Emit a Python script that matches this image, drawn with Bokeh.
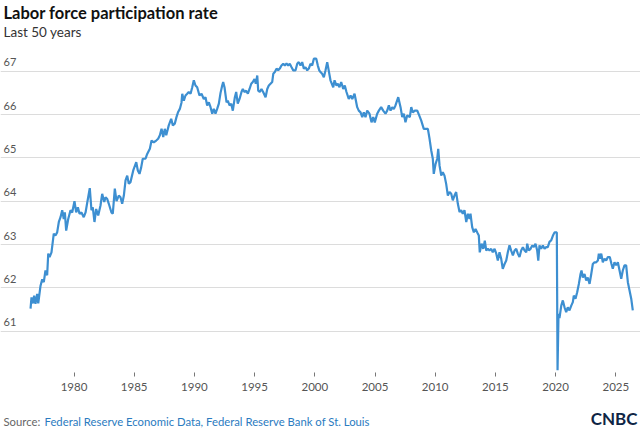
from bokeh.plotting import figure
from bokeh.layouts import column
from bokeh.models import Range1d, FixedTicker, ColumnDataSource, Grid
from bokeh.core.properties import value
from bokeh.embed import file_html
from bokeh.resources import INLINE

FONT = "Lato"

title_text = "Labor force participation rate"
subtitle_text = "Last 50 years"
source_prefix = "Source:"
source_text = "Federal Reserve Economic Data, Federal Reserve Bank of St. Louis"
logo_text = "CNBC"

x_ticks = [1980, 1985, 1990, 1995, 2000, 2005, 2010, 2015, 2020, 2025]
y_ticks = [61, 62, 63, 64, 65, 66, 67]

years = [
    1976.39, 1976.47, 1976.58, 1976.69, 1976.80, 1976.94, 1977.03, 1977.22, 1977.36, 1977.49, 1977.63, 1977.77, 1977.86, 1977.97,
    1978.13, 1978.32, 1978.46, 1978.60, 1978.74, 1978.88, 1979.02, 1979.15, 1979.24, 1979.35, 1979.52, 1979.71, 1979.85,
    1980.04, 1980.18, 1980.32, 1980.46, 1980.62, 1980.81, 1980.96, 1981.12, 1981.31, 1981.45, 1981.56, 1981.70, 1981.84,
    1982.01, 1982.20, 1982.34, 1982.51, 1982.62, 1982.76, 1982.89, 1983.11, 1983.22, 1983.39, 1983.53, 1983.72, 1983.86,
    1984.00, 1984.14, 1984.28, 1984.42, 1984.55, 1984.69, 1984.92, 1985.17, 1985.30, 1985.44, 1985.58, 1985.71, 1985.94,
    1986.08, 1986.30, 1986.44, 1986.63, 1986.83, 1986.99, 1987.13, 1987.27, 1987.41, 1987.54, 1987.66, 1987.87,
    1988.07, 1988.21, 1988.37, 1988.51, 1988.65, 1988.79, 1988.93, 1988.99, 1989.12, 1989.26, 1989.40, 1989.53, 1989.68, 1989.82, 1989.95,
    1990.09, 1990.23, 1990.42, 1990.59, 1990.78, 1990.92, 1991.06, 1991.20, 1991.34, 1991.48, 1991.61, 1991.75, 1991.89,
    1992.03, 1992.17, 1992.31, 1992.39, 1992.50, 1992.67, 1992.77, 1992.92, 1993.06, 1993.19, 1993.36, 1993.47, 1993.60, 1993.75, 1993.91,
    1994.02, 1994.16, 1994.30, 1994.44, 1994.58, 1994.72, 1994.85, 1994.99, 1995.10, 1995.22, 1995.30, 1995.43, 1995.57, 1995.71, 1995.91,
    1996.05, 1996.18, 1996.32, 1996.46, 1996.55, 1996.68, 1996.82, 1996.96, 1997.09, 1997.23, 1997.38, 1997.51, 1997.65, 1997.79, 1997.92,
    1998.07, 1998.21, 1998.40, 1998.54, 1998.67, 1998.81, 1998.95, 1999.09, 1999.23, 1999.37, 1999.50, 1999.64, 1999.78, 1999.92,
    2000.12, 2000.25, 2000.37, 2000.47, 2000.61, 2000.75, 2000.89, 2001.03, 2001.30, 2001.53, 2001.64, 2001.80, 2001.91,
    2002.05, 2002.19, 2002.36, 2002.49, 2002.63, 2002.82, 2002.97, 2003.11, 2003.30, 2003.52, 2003.65, 2003.80, 2003.94,
    2004.07, 2004.21, 2004.35, 2004.54, 2004.71, 2004.85, 2004.98, 2005.18, 2005.32, 2005.51, 2005.68, 2005.87,
    2006.01, 2006.15, 2006.29, 2006.43, 2006.56, 2006.70, 2006.93, 2007.12, 2007.26, 2007.39, 2007.53, 2007.67, 2007.89,
    2008.01, 2008.14, 2008.31, 2008.51, 2008.67, 2008.84, 2009.05, 2009.19, 2009.39, 2009.53, 2009.67, 2009.80, 2009.88,
    2010.03, 2010.17, 2010.25, 2010.36, 2010.50, 2010.63, 2010.77, 2010.91, 2011.05, 2011.19, 2011.33, 2011.46, 2011.60, 2011.74, 2011.88,
    2012.02, 2012.16, 2012.29, 2012.43, 2012.58, 2012.71, 2012.85, 2012.93, 2013.07, 2013.21, 2013.35, 2013.49, 2013.62, 2013.70, 2013.85, 2013.99,
    2014.12, 2014.24, 2014.37, 2014.51, 2014.65, 2014.78, 2014.93, 2015.07, 2015.20, 2015.34, 2015.48, 2015.61, 2015.76, 2015.90,
    2016.03, 2016.17, 2016.31, 2016.45, 2016.59, 2016.73, 2016.86, 2017.00, 2017.14, 2017.28, 2017.42, 2017.56, 2017.64, 2017.77, 2017.92,
    2018.06, 2018.19, 2018.33, 2018.47, 2018.56, 2018.66, 2018.80, 2018.94, 2019.08, 2019.22, 2019.35, 2019.49, 2019.64, 2019.77, 2019.91,
    2020.05, 2020.10, 2020.16, 2020.24, 2020.32, 2020.47, 2020.60, 2020.74, 2020.88, 2021.01, 2021.15, 2021.30, 2021.43, 2021.51, 2021.65, 2021.79, 2021.93,
    2022.07, 2022.15, 2022.26, 2022.40, 2022.54, 2022.67, 2022.82, 2022.96, 2023.09, 2023.23, 2023.37, 2023.51, 2023.59, 2023.67, 2023.79, 2023.92,
    2024.06, 2024.20, 2024.34, 2024.50, 2024.64, 2024.75, 2024.89, 2025.03, 2025.17, 2025.31, 2025.45, 2025.58, 2025.72, 2025.86,
    2026.00, 2026.14, 2026.28, 2026.41,
]

rate = [
    61.52, 61.78, 61.64, 61.82, 61.63, 61.86, 61.64, 62.05, 62.20, 62.13, 62.40, 62.29, 62.79, 62.71,
    62.82, 63.25, 63.21, 63.28, 63.52, 63.63, 63.79, 63.59, 63.74, 63.32, 63.59, 63.79, 63.74,
    64.00, 63.74, 63.86, 63.71, 63.74, 63.63, 63.74, 64.00, 64.30, 63.79, 63.86, 63.52, 63.82,
    63.67, 63.90, 64.17, 63.98, 64.09, 64.05, 63.94, 63.74, 63.71, 64.29, 64.00, 64.13, 64.09,
    63.94, 64.13, 64.48, 64.59, 64.40, 64.44, 64.71, 64.90, 64.71, 64.63, 64.78, 64.98, 64.98,
    65.09, 65.21, 65.40, 65.36, 65.40, 65.44, 65.52, 65.67, 65.48, 65.67, 65.52, 65.75,
    65.90, 65.75, 65.79, 65.94, 66.06, 66.13, 66.28, 66.48, 66.32, 66.44, 66.48, 66.52, 66.48, 66.63, 66.79,
    66.67, 66.63, 66.44, 66.48, 66.36, 66.40, 66.21, 66.28, 66.17, 66.02, 66.13, 66.02, 66.13,
    66.25, 66.50, 66.67, 66.75, 66.63, 66.28, 66.32, 66.21, 66.25, 66.09, 66.40, 66.52, 66.25, 66.36, 66.52,
    66.59, 66.52, 66.55, 66.48, 66.59, 66.71, 66.75, 66.82, 66.71, 66.90, 66.55, 66.52, 66.59, 66.52, 66.40,
    66.59, 66.67, 66.71, 66.75, 66.94, 66.98, 67.06, 67.02, 67.06, 67.13, 67.17, 67.13, 67.18, 67.13, 67.17,
    67.09, 67.02, 67.02, 67.17, 67.21, 67.13, 67.21, 67.06, 67.09, 67.02, 67.06, 67.17, 67.13, 67.29,
    67.29, 67.13, 67.02, 66.98, 66.94, 66.86, 67.02, 67.21, 66.79, 66.63, 66.79, 66.67, 66.71,
    66.63, 66.75, 66.59, 66.67, 66.52, 66.36, 66.44, 66.36, 66.48, 66.17, 66.09, 66.05, 65.94,
    66.05, 65.94, 66.09, 66.02, 65.82, 65.94, 65.82, 66.02, 66.09, 66.17, 66.09, 66.02,
    66.09, 66.21, 66.09, 66.17, 66.13, 66.21, 66.40, 66.17, 65.94, 66.02, 65.82, 65.98, 65.94,
    66.17, 66.05, 66.09, 66.09, 65.98, 65.86, 65.67, 65.67, 65.67, 65.44, 65.17, 64.98, 64.63,
    64.86, 64.98, 65.21, 64.82, 64.59, 64.67, 64.59, 64.40, 64.13, 64.21, 64.17, 64.02, 64.13, 64.21, 63.94,
    63.75, 63.79, 63.71, 63.79, 63.52, 63.71, 63.59, 63.71, 63.40, 63.28, 63.36, 63.28, 63.21, 62.82, 63.02, 62.90,
    63.09, 62.86, 62.90, 62.86, 62.90, 62.82, 62.90, 62.79, 62.63, 62.82, 62.67, 62.44, 62.55, 62.63,
    62.82, 62.98, 62.86, 62.75, 62.86, 62.90, 62.79, 62.71, 62.86, 62.94, 62.86, 62.82, 63.02, 62.86, 62.90,
    62.98, 62.94, 63.02, 62.86, 62.63, 62.98, 62.90, 62.98, 62.90, 62.94, 62.94, 63.06, 63.10, 63.20, 63.28,
    63.28, 63.28, 60.10, 61.40, 61.30, 61.59, 61.71, 61.55, 61.44, 61.55, 61.48, 61.59, 61.67, 61.82, 61.75, 61.90, 62.09,
    62.32, 62.40, 62.24, 62.32, 62.17, 62.24, 62.09, 62.32, 62.55, 62.59, 62.59, 62.63, 62.79, 62.67, 62.79, 62.59,
    62.67, 62.63, 62.71, 62.71, 62.55, 62.44, 62.59, 62.52, 62.59, 62.40, 62.21, 62.40, 62.52, 62.52,
    62.13, 61.94, 61.75, 61.48,
]

X_START, X_END = 1973.895, 2027.05
Y_START, Y_END = 60.046, 67.478


def bare(height):
    f = figure(width=640, height=height, output_backend="svg", toolbar_location=None,
               title=None, x_range=Range1d(0, 640), y_range=Range1d(height, 0),
               x_axis_location=None, y_axis_location=None,
               min_border_left=0, min_border_right=0, min_border_top=0, min_border_bottom=0)
    f.outline_line_color = None
    f.background_fill_color = "white"
    f.border_fill_color = "white"
    f.xgrid.visible = False
    f.ygrid.visible = False
    return f


def txt(f, text, x, y, size, color, style="normal", align="left"):
    f.text(x=[x], y=[y], text=[text], text_font=value(FONT), text_font_size=size,
           text_color=color, text_font_style=style, text_align=align,
           text_baseline="middle")


# header (text centres)
head = bare(50)
txt(head, title_text, 3, 12, "16.5px", "#111111", "bold")
txt(head, subtitle_text, 3, 31, "13.5px", "#333333")

# main chart
p = figure(width=640, height=350, output_backend="svg", toolbar_location=None,
           title=None, x_range=Range1d(X_START, X_END), y_range=Range1d(Y_START, Y_END),
           y_axis_location=None,
           min_border_left=0, min_border_right=0, min_border_top=0, min_border_bottom=28)
p.outline_line_color = None
p.background_fill_color = "white"
p.border_fill_color = "white"
p.xgrid.visible = False
for g in p.ygrid:
    g.visible = False

grid = Grid(dimension=1, ticker=FixedTicker(ticks=y_ticks),
            grid_line_color="#dcdcdc", grid_line_width=1)
p.add_layout(grid)

ax = p.xaxis[0]
ax.ticker = FixedTicker(ticks=x_ticks)
ax.axis_line_color = None
ax.major_tick_in = 0
ax.major_tick_out = 4
ax.major_tick_line_color = "#777777"
ax.minor_tick_line_color = None
ax.major_label_standoff = 6
ax.major_label_text_font = FONT
ax.major_label_text_font_size = "11.5px"
ax.major_label_text_color = "#555555"

src = ColumnDataSource(dict(x=years, y=rate))
p.line("x", "y", source=src, line_color="#3d8fd1", line_width=2.2)

ysrc = ColumnDataSource(dict(x=[X_START] * len(y_ticks), y=y_ticks,
                             t=[str(t) for t in y_ticks]))
p.text("x", "y", text="t", source=ysrc, x_offset=3, y_offset=-9,
       text_font=value(FONT), text_font_size="11px", text_color="#555555",
       text_baseline="middle", text_align="left")

# footer (text centres, local to 400..429)
foot = bare(29)
txt(foot, source_prefix, 3, 21, "11.3px", "#666666")
txt(foot, source_text, 44, 21, "11.3px", "#2b7bbf")
txt(foot, logo_text, 637, 18, "17px", "#0f2545", "bold", "right")

layout = column(head, p, foot, spacing=0)
open("out.html", "w").write(file_html(layout, INLINE))
